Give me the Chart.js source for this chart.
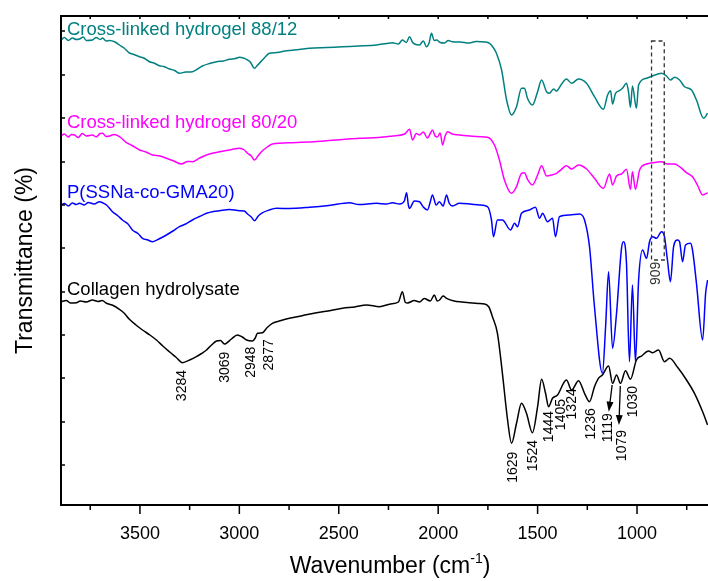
<!DOCTYPE html>
<html>
<head>
<meta charset="utf-8">
<script src="https://cdn.jsdelivr.net/npm/chart.js@4/dist/chart.umd.min.js"></script>
<style>
  body { margin: 0; background: #fff; }
  canvas { display: block; }
</style>
</head>
<body>
<canvas id="ftir" width="708" height="581"></canvas>
<script>
// wavenumber (cm-1) / transmittance (arbitrary, offset)
const hydrogel8812 = [[3897,93],[3880,93.5],[3860,92.9],[3840,93.4],[3820,93.1],[3804,93.2],[3785,93.6],[3770,92.9],[3739,93],[3720,93.5],[3700,93.1],[3688,93.4],[3670,92.8],[3653,92.9],[3625,92.6],[3603,92],[3580,91.4],[3553,90.4],[3530,90.1],[3502,89.66],[3480,89.4],[3452,88.66],[3430,88.4],[3402,87.86],[3380,87.7],[3351,87.2],[3325,86.9],[3301,86.34],[3270,86.6],[3236,86.66],[3210,87.2],[3186,87.8],[3150,88.3],[3115,88.66],[3080,88.8],[3050,89.14],[3020,89.3],[2999,89.54],[2980,89.4],[2964,89.14],[2945,88.6],[2924,87.34],[2910,87.9],[2899,88.34],[2870,89.6],[2849,90.34],[2810,90.5],[2763,90.86],[2700,91.1],[2647,91.34],[2560,91.5],[2481,91.66],[2400,91.8],[2310,92],[2260,92.3],[2230,92.46],[2200,92.2],[2180,93],[2160,92.5],[2144,93.66],[2130,92.6],[2119,92.2],[2094,92],[2075,92.8],[2059,91.66],[2045,92.5],[2034,94.34],[2020,92.9],[2008,93],[1990,92.5],[1968,92.4],[1950,92.9],[1928,92.66],[1890,92.6],[1843,92.4],[1810,92.7],[1792,92.66],[1765,92.6],[1742,92.34],[1725,91.6],[1707,90.34],[1681,87],[1656,81],[1631,78],[1606,79.66],[1581,83.34],[1566,83.34],[1551,81.34],[1526,80],[1500,82.66],[1480,85],[1455,82.66],[1440,82.34],[1420,83.2],[1405,82.8],[1380,84.14],[1355,85.2],[1329,84.34],[1294,85.2],[1254,84.34],[1214,81.66],[1169,79.14],[1148,82],[1133,82.86],[1123,80.2],[1108,82.34],[1088,82.86],[1073,83.34],[1053,84.34],[1043,82.66],[1033,79.54],[1023,83.8],[1003,79.34],[992,84],[952,85.34],[922,85.8],[877,86.34],[852,85.8],[832,85],[811,85.54],[786,85],[761,83.66],[726,83],[701,81],[665,77.34],[645,78.34]];

const hydrogel8020 = [[3897,73.8],[3880,74.2],[3860,73.6],[3845,74.1],[3829,74],[3810,73.5],[3790,74.3],[3770,73.8],[3739,74],[3720,73.6],[3700,74.3],[3688,74.34],[3670,73.7],[3653,73.8],[3630,74.1],[3603,73.66],[3568,72.46],[3540,71.9],[3502,71],[3470,70.6],[3437,70],[3400,69.8],[3367,69.34],[3330,68.8],[3291,68.2],[3260,68.7],[3236,68.66],[3200,69.4],[3165,70],[3130,70.4],[3100,70.66],[3050,71],[2999,71.34],[2975,71],[2959,70.34],[2940,69.8],[2924,69],[2905,69.9],[2889,70.66],[2860,71.6],[2834,72.2],[2733,72.46],[2650,72.6],[2562,72.86],[2480,73.1],[2396,73.34],[2300,73.5],[2230,73.8],[2169,74.2],[2144,75.14],[2129,73],[2110,74.3],[2094,74],[2075,74.6],[2054,73.4],[2040,74.3],[2029,75],[2015,73.8],[2004,73.6],[1990,74.4],[1978,72],[1965,73.8],[1953,74.66],[1930,74.2],[1893,74],[1840,73.8],[1792,73.66],[1752,73.54],[1717,72],[1692,69],[1667,65],[1631,62.34],[1606,63.66],[1581,66.34],[1566,66.46],[1551,65.14],[1526,64],[1500,66],[1480,67.86],[1455,65.8],[1430,66],[1405,66.34],[1380,67.14],[1355,67.86],[1329,67.2],[1294,68],[1254,67.2],[1214,65.34],[1169,63.34],[1138,66.2],[1123,64],[1103,65.8],[1078,66.2],[1053,67.14],[1033,63.14],[1023,66.66],[1008,63.14],[987,67],[952,68.2],[922,68.46],[877,68.66],[847,68.2],[811,68.2],[786,67.66],[751,66.46],[721,65.66],[696,64],[670,62],[645,62.46]];

const pSSNaGMA20 = [[3897,60],[3880,60.3],[3860,59.8],[3840,60.4],[3820,60.1],[3804,60.34],[3780,60],[3760,60.5],[3730,60.2],[3704,60.66],[3685,60.4],[3668,60],[3638,58.66],[3610,57.8],[3588,57],[3560,56.2],[3538,55],[3510,54.3],[3487,53.34],[3460,53],[3437,52.66],[3400,53.3],[3367,54],[3330,54.9],[3301,55.66],[3270,56.2],[3236,57],[3200,57.7],[3165,58.34],[3130,58.7],[3100,58.86],[3050,59.1],[2999,58.86],[2975,58.8],[2959,58.2],[2940,57.6],[2924,56.86],[2905,57.8],[2889,58.34],[2850,59],[2813,59.34],[2750,59.3],[2647,59.54],[2550,59.9],[2446,60.46],[2400,60.1],[2310,60.34],[2260,60.2],[2230,60.46],[2195,60.2],[2170,60.8],[2159,62.46],[2150,60],[2144,59.34],[2120,60.8],[2094,60.66],[2075,59.6],[2054,59],[2040,60.6],[2029,62],[2010,60],[1994,60.66],[1975,59.8],[1958,62],[1945,60.4],[1928,59.8],[1893,60.34],[1840,60.2],[1792,60],[1752,59.66],[1732,57],[1722,53.66],[1702,57],[1677,57],[1636,55],[1616,56.34],[1601,55.66],[1581,58.34],[1541,59],[1511,59.54],[1490,57.34],[1475,58.34],[1450,56.66],[1425,57.34],[1410,53.66],[1390,57.66],[1340,58],[1289,58.2],[1264,57],[1239,51.66],[1214,39.66],[1174,26.34],[1158,35.66],[1143,46.66],[1123,31.34],[1103,38.34],[1078,51.34],[1068,52.66],[1053,48.34],[1038,28.66],[1023,44],[1008,28.66],[992,45],[972,51],[952,49.34],[937,52.66],[922,53.66],[902,53.34],[877,54.66],[862,53.66],[847,49],[832,44.66],[816,51.66],[796,53],[786,52.66],[771,48.66],[756,52],[731,52.34],[721,51],[701,44.34],[670,33],[655,42.34],[645,45]];

const collagen = [[3897,40.66],[3870,40.9],[3850,40.4],[3819,40.46],[3800,40.8],[3770,40.6],[3739,41],[3710,40.7],[3690,40.9],[3668,40.34],[3640,40],[3603,39.14],[3580,38.4],[3553,37.14],[3520,36],[3487,35],[3450,34],[3417,33],[3385,31.8],[3352,30.66],[3320,29.6],[3286,28.46],[3250,29],[3216,29.66],[3190,30.3],[3165,31],[3140,32],[3115,32.8],[3095,32.9],[3075,32.2],[3040,33.2],[3010,34],[2985,33.6],[2964,33],[2934,32.8],[2920,33.4],[2909,34.34],[2884,34.46],[2860,35.5],[2834,36.34],[2790,36.9],[2748,37.34],[2680,37.9],[2612,38.46],[2540,38.9],[2481,39.34],[2420,39.6],[2361,40],[2295,39.66],[2240,40.2],[2200,40.6],[2180,42.66],[2165,40.5],[2154,40.4],[2120,40.9],[2094,40.6],[2070,41.3],[2040,40.8],[2019,42],[2005,40.8],[1993,41],[1975,41.8],[1958,41.34],[1920,40.8],[1880,40.6],[1843,40.46],[1800,40.3],[1767,40.2],[1745,39.6],[1727,37.66],[1702,34.34],[1677,26.34],[1651,17],[1631,12.34],[1606,16.34],[1581,20.34],[1556,18.34],[1526,14.46],[1500,19.66],[1480,25.14],[1460,22.34],[1445,19.66],[1425,21.34],[1400,22],[1355,25],[1329,23],[1294,24.86],[1264,22.34],[1239,20.66],[1214,23.66],[1194,25.34],[1174,26],[1143,27.8],[1123,24.34],[1103,26],[1083,24.34],[1058,26.86],[1033,25.14],[1003,29],[977,29.8],[942,30.8],[922,30.46],[892,31],[862,28.66],[836,29.34],[796,27.54],[751,25],[711,22.34],[670,18.66],[645,16]];

const xTickValues = [3750, 3500, 3250, 3000, 2750, 2500, 2250, 2000, 1750, 1500, 1250, 1000, 750];
const yTickValues = [8, 16.6, 25.4, 34, 42.6, 51.4, 60, 68.6, 77.4, 86, 94.8];

// peak labels on the collagen curve
const peakLabels = ['3284', '3069', '2948', '2877', '1629', '1524', '1444', '1405', '1324', '1236', '1119', '1079', '1030'];
const peakLabelWn = [3286, 3071, 2940, 2848, 1625, 1524, 1440, 1381, 1326, 1230, 1143, 1076, 1021];
const peakLabelTop = [27, 30.66, 31.66, 33.14, 10.66, 13, 18.8, 21.2, 23.34, 19.34, 18.34, 15, 23.8];
const peakArrows = [[[1125, 24], [1142, 18.66]], [[1084, 23.8], [1091, 16]]];

const seriesNames = ['Cross-linked hydrogel 88/12', 'Cross-linked hydrogel 80/20', 'P(SSNa-co-GMA20)', 'Collagen hydrolysate'];
const seriesColors = ['#008080', '#ff00ff', '#0000ff', '#000000'];
const seriesNameY = [94, 75.4, 61.4, 42.1];

const FONT = '"Liberation Sans", Arial, sans-serif';

const toXY = arr => arr.map(p => ({ x: p[0], y: p[1] }));

const decor = {
    id: 'decor',
    afterDraw(chart) {
        const ctx = chart.ctx;
        const a = chart.chartArea;
        const xs = chart.scales.x, ys = chart.scales.y;
        ctx.save();

        // frame
        ctx.strokeStyle = '#000';
        ctx.lineWidth = 2;
        ctx.beginPath();
        ctx.moveTo(a.right + 2, a.top);
        ctx.lineTo(a.left, a.top);
        ctx.lineTo(a.left, a.bottom);
        ctx.lineTo(a.right + 2, a.bottom);
        ctx.stroke();

        // ticks
        ctx.lineWidth = 1.5;
        ctx.beginPath();
        xTickValues.forEach(v => {
            const px = xs.getPixelForValue(v);
            const len = v % 500 === 0 ? 9 : 5;
            ctx.moveTo(px, a.bottom);
            ctx.lineTo(px, a.bottom + len);
            ctx.moveTo(px, a.top);
            ctx.lineTo(px, a.top + 3);
        });
        yTickValues.forEach(v => {
            const py = ys.getPixelForValue(v);
            ctx.moveTo(a.left, py);
            ctx.lineTo(a.left + 4, py);
        });
        ctx.stroke();

        // series names
        ctx.font = '18.5px ' + FONT;
        ctx.textAlign = 'left';
        ctx.textBaseline = 'alphabetic';
        seriesNames.forEach((n, i) => {
            ctx.fillStyle = seriesColors[i];
            ctx.fillText(n, a.left + 6, ys.getPixelForValue(seriesNameY[i]));
        });

        // rotated peak labels
        ctx.font = '14px ' + FONT;
        ctx.fillStyle = '#000';
        const vText = (txt, wn, top) => {
            ctx.save();
            ctx.translate(xs.getPixelForValue(wn), ys.getPixelForValue(top));
            ctx.rotate(-Math.PI / 2);
            ctx.textAlign = 'right';
            ctx.textBaseline = 'middle';
            ctx.fillText(txt, 0, 0);
            ctx.restore();
        };
        peakLabels.forEach((t, i) => vText(t, peakLabelWn[i], peakLabelTop[i]));

        // arrows
        ctx.strokeStyle = '#000';
        ctx.lineWidth = 1.3;
        peakArrows.forEach(ar => {
            const x1 = xs.getPixelForValue(ar[0][0]), y1 = ys.getPixelForValue(ar[0][1]);
            const x2 = xs.getPixelForValue(ar[1][0]), y2 = ys.getPixelForValue(ar[1][1]);
            const ang = Math.atan2(y2 - y1, x2 - x1);
            ctx.beginPath();
            ctx.moveTo(x1, y1);
            ctx.lineTo(x2 - 8 * Math.cos(ang), y2 - 8 * Math.sin(ang));
            ctx.stroke();
            ctx.beginPath();
            ctx.moveTo(x2, y2);
            ctx.lineTo(x2 - 10 * Math.cos(ang) + 3.5 * Math.sin(ang), y2 - 10 * Math.sin(ang) - 3.5 * Math.cos(ang));
            ctx.lineTo(x2 - 10 * Math.cos(ang) - 3.5 * Math.sin(ang), y2 - 10 * Math.sin(ang) + 3.5 * Math.cos(ang));
            ctx.closePath();
            ctx.fill();
        });

        // dashed box around 909
        ctx.strokeStyle = '#333';
        ctx.lineWidth = 1.3;
        ctx.setLineDash([4, 3]);
        const bx1 = xs.getPixelForValue(927), bx2 = xs.getPixelForValue(863);
        const by1 = ys.getPixelForValue(92.8), by2 = ys.getPixelForValue(49);
        ctx.strokeRect(bx1, by1, bx2 - bx1, by2 - by1);
        ctx.setLineDash([]);
        ctx.fillStyle = '#333';
        vText('909', 903, 48.66);

        // axis titles
        ctx.fillStyle = '#000';
        ctx.font = '23px ' + FONT;
        ctx.save();
        ctx.translate(26, (a.top + a.bottom) / 2);
        ctx.rotate(-Math.PI / 2);
        ctx.textAlign = 'center';
        ctx.textBaseline = 'middle';
        ctx.fillText('Transmittance (%)', 0, 0);
        ctx.restore();

        const t1 = 'Wavenumber (cm', t2 = '-1', t3 = ')';
        ctx.font = '23px ' + FONT;
        const w1 = ctx.measureText(t1).width, w3 = ctx.measureText(t3).width;
        ctx.font = '14px ' + FONT;
        const w2 = ctx.measureText(t2).width;
        let x0 = 390 - (w1 + w2 + w3) / 2;
        const base = 573;
        ctx.textAlign = 'left';
        ctx.textBaseline = 'alphabetic';
        ctx.font = '23px ' + FONT;
        ctx.fillText(t1, x0, base);
        ctx.font = '14px ' + FONT;
        ctx.fillText(t2, x0 + w1, base - 10);
        ctx.font = '23px ' + FONT;
        ctx.fillText(t3, x0 + w1 + w2, base);

        ctx.restore();
    }
};

const datasets = [hydrogel8812, hydrogel8020, pSSNaGMA20, collagen].map((d, i) => ({
    label: seriesNames[i],
    data: toXY(d),
    borderColor: seriesColors[i],
    borderWidth: 1.5,
    pointRadius: 0,
    cubicInterpolationMode: 'monotone',
    fill: false
}));

new Chart(document.getElementById('ftir'), {
    type: 'line',
    data: { datasets: datasets },
    options: {
        responsive: false,
        animation: false,
        layout: { padding: { top: 16, right: 0, left: 0, bottom: 0 } },
        plugins: { legend: { display: false }, tooltip: { enabled: false } },
        scales: {
            x: {
                type: 'linear',
                reverse: true,
                min: 643,
                max: 3897,
                grid: { display: false },
                border: { display: false },
                afterBuildTicks: s => { s.ticks = xTickValues.map(v => ({ value: v })); },
                afterFit: s => { s.height = 76; },
                ticks: {
                    autoSkip: false,
                    maxRotation: 0,
                    padding: 10,
                    color: '#000',
                    font: { family: FONT, size: 18 },
                    callback: v => (v % 500 === 0 ? String(v) : '')
                }
            },
            y: {
                type: 'linear',
                min: 0,
                max: 97.8,
                grid: { display: false },
                border: { display: false },
                ticks: { display: false },
                afterFit: s => { s.width = 61; }
            }
        }
    },
    plugins: [decor]
});
</script>
</body>
</html>
